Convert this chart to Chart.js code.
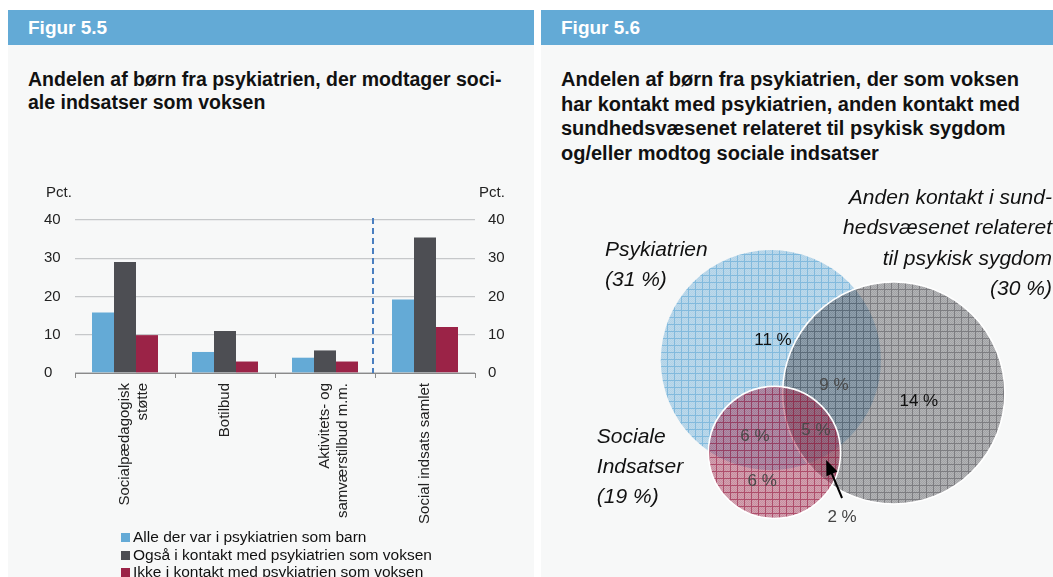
<!DOCTYPE html>
<html>
<head>
<meta charset="utf-8">
<script src="https://cdn.jsdelivr.net/npm/chart.js@4.4.1/dist/chart.umd.min.js"></script>
<style>
  html, body {
    margin: 0;
    padding: 0;
    width: 1053px;
    height: 577px;
    overflow: hidden;
    background: #fff;
    font-family: "Liberation Sans", Arial, Helvetica, sans-serif;
  }
  .panel { position: absolute; top: 10px; height: 600px; background: #f7f8f8; }
  #panel-a { left: 8px; width: 526px; }
  #panel-b { left: 541px; width: 530px; }
  .head {
    height: 35px;
    line-height: 35px;
    padding-left: 20px;
    background: #63aad6;
    color: #fff;
    font-weight: bold;
    font-size: 19px;
  }
  .title { position: absolute; left: 20px; font-weight: bold; color: #111; }
  #panel-a .title { top: 58px; line-height: 23px; font-size: 19.5px; }
  #panel-b .title { top: 57px; line-height: 24.7px; font-size: 20px; }
  canvas { position: absolute; }
  #bar-chart { left: 8px; top: 170px; }
  #venn-chart { left: 541px; top: 170px; }
  #legend { position: absolute; left: 121px; top: 528px; font-size: 15.5px; color: #111; }
  #legend div { height: 17.5px; line-height: 17.5px; white-space: nowrap; }
  #legend span { display: inline-block; width: 9px; height: 9px; margin-right: 3px; vertical-align: 0px; }
</style>
</head>
<body>
  <div class="panel" id="panel-a">
    <div class="head">Figur 5.5</div>
    <div class="title">Andelen af børn fra psykiatrien, der modtager soci-<br>ale indsatser som voksen</div>
  </div>
  <div class="panel" id="panel-b">
    <div class="head">Figur 5.6</div>
    <div class="title">Andelen af børn fra psykiatrien, der som voksen<br>har kontakt med psykiatrien, anden kontakt med<br>sundhedsvæsenet relateret til psykisk sygdom<br>og/eller modtog sociale indsatser</div>
  </div>
  <canvas id="bar-chart" width="526" height="407"></canvas>
  <canvas id="venn-chart" width="512" height="410"></canvas>
  <div id="legend"></div>

<script>
// Figur 5.5 data
const categories = [
  ['Socialpædagogisk', 'støtte'],
  'Botilbud',
  ['Aktivitets- og', 'samværstilbud m.m.'],
  'Social indsats samlet'
];
const seriesNames = [
  'Alle der var i psykiatrien som barn',
  'Også i kontakt med psykiatrien som voksen',
  'Ikke i kontakt med psykiatrien som voksen'
];
const allAsChild = [15.8, 5.5, 4.0, 19.2];
const alsoAsAdult = [29.0, 11.0, 5.9, 35.4];
const notAsAdult = [9.9, 3.0, 3.0, 12.0];
const yTicks = [0, 10, 20, 30, 40];
const seriesColors = ['#64aad6', '#4d4e53', '#9b2347'];

// Figur 5.6 data
const setNameLines = [
  ['Psykiatrien'],
  ['Anden kontakt i sund-', 'hedsvæsenet relateret', 'til psykisk sygdom'],
  ['Sociale', 'Indsatser']
];
const setTotals = [31, 30, 19];
const regionValues = [11, 9, 14, 6, 5, 6, 2];

// circle layout (chart units)
const circleX = [44.9, 68.9, 45.6];
const circleY = [37.1, 43.5, 55.1];
const circleR = [21.5, 21.7, 12.9];
const circleRgb = [[100, 170, 214], [77, 78, 83], [155, 35, 71]];
const regionPos = [[45.3, 33.2], [57.2, 42.0], [73.8, 45.1], [41.8, 51.9], [53.7, 50.7], [43.2, 60.7], [58.8, 67.7]];
const regionColors = ['#111', '#4a4a4a', '#111', '#4a4a4a', '#4a4a4a', '#4a4a4a', '#444'];
const setLabelPos = [[12.5, 15.6, 'left'], [99.8, 5.5, 'right'], [10.9, 52.1, 'left']];
const arrowFrom = [58.8, 64.0];
const arrowTo = [55.7, 56.6];

const FONT = '"Liberation Sans", Arial, Helvetica, sans-serif';
Chart.defaults.font.family = FONT;
Chart.defaults.color = '#222';

const barExtras = {
  id: 'barExtras',
  beforeDatasetsDraw(chart) {
    const { ctx, chartArea, scales } = chart;
    const x = scales.x.getPixelForValue(2.5) - 2;
    ctx.save();
    ctx.strokeStyle = '#4a7fc1';
    ctx.lineWidth = 2;
    ctx.setLineDash([6, 4]);
    ctx.beginPath();
    ctx.moveTo(x, scales.y.getPixelForValue(40) - 2);
    ctx.lineTo(x, chartArea.bottom);
    ctx.stroke();
    ctx.restore();
  },
  afterDraw(chart) {
    const { ctx, chartArea, scales } = chart;
    ctx.save();
    ctx.font = '15px ' + FONT;
    ctx.fillStyle = '#222';
    ctx.textBaseline = 'middle';
    ctx.fillText('Pct.', scales.y.left + 2, chartArea.top - 27);
    ctx.fillText('Pct.', scales.y2.left + 4, chartArea.top - 27);
    ctx.restore();
  }
};

const barChart = new Chart(document.getElementById('bar-chart'), {
  type: 'bar',
  data: {
    labels: categories,
    datasets: [allAsChild, alsoAsAdult, notAsAdult].map((values, i) => ({
      label: seriesNames[i],
      data: values,
      backgroundColor: seriesColors[i],
      borderWidth: 0,
      barPercentage: 1,
      categoryPercentage: 0.66
    }))
  },
  options: {
    responsive: false,
    animation: false,
    events: [],
    layout: { padding: { left: 36, top: 50, right: 0, bottom: 0 } },
    plugins: { legend: { display: false }, tooltip: { enabled: false } },
    scales: {
      x: {
        grid: { offset: true, drawOnChartArea: false, drawTicks: true, tickLength: 5, color: '#8a8a8a' },
        border: { display: true, color: '#8a8a8a', width: 1 },
        ticks: { maxRotation: 90, minRotation: 90, autoSkip: false, padding: 5, color: '#222', font: { size: 15 } },
        afterFit(s) { s.height = 204; }
      },
      y: {
        position: 'left',
        min: 0,
        max: 40,
        afterBuildTicks(s) { s.ticks = yTicks.map(v => ({ value: v })); },
        ticks: { crossAlign: 'far', padding: 0, color: '#222', font: { size: 15 } },
        grid: { color: '#c6c8ca', lineWidth: 1.3, drawTicks: false },
        border: { display: false },
        afterFit(s) { s.width = 31; }
      },
      y2: {
        position: 'right',
        min: 0,
        max: 40,
        afterBuildTicks(s) { s.ticks = yTicks.map(v => ({ value: v })); },
        ticks: { padding: 13, color: '#222', font: { size: 15 } },
        grid: { drawOnChartArea: false, drawTicks: false },
        border: { display: false },
        afterFit(s) { s.width = 59; }
      }
    }
  },
  plugins: [barExtras]
});

const legendEl = document.getElementById('legend');
barChart.data.datasets.forEach(ds => {
  const row = document.createElement('div');
  const box = document.createElement('span');
  box.style.background = ds.backgroundColor;
  row.appendChild(box);
  row.appendChild(document.createTextNode(ds.label));
  legendEl.appendChild(row);
});

// see-through hatched fill: base tint, fine checker, grid lines every 7px
function makePattern([r, g, b], baseA, dotA, lineA) {
  const size = 7;
  const c = document.createElement('canvas');
  c.width = size;
  c.height = size;
  const p = c.getContext('2d');
  for (let y = 0; y < size; y++) {
    for (let x = 0; x < size; x++) {
      let a = (x + y) % 2 === 0 ? dotA : baseA;
      if (x === 0 || y === 0) a = lineA;
      p.fillStyle = `rgba(${r},${g},${b},${a})`;
      p.fillRect(x, y, 1, 1);
    }
  }
  return p.createPattern(c, 'repeat');
}

const vctx = document.getElementById('venn-chart').getContext('2d');
const circleFills = [
  makePattern(circleRgb[0], 0.4, 0.48, 0.8),
  makePattern(circleRgb[1], 0.4, 0.5, 0.72),
  makePattern(circleRgb[2], 0.4, 0.5, 0.8)
];
const circleBorders = [0, 1.6, 1.6];

function radiusPx(ctx, r) {
  const s = ctx.chart.scales.x;
  return Math.abs(s.getPixelForValue(r) - s.getPixelForValue(0));
}

const vennDatasets = circleX.map((cx, i) => ({
  data: [{ x: cx, y: circleY[i] }],
  order: 3 - i,
  clip: false,
  pointRadius: ctx => radiusPx(ctx, circleR[i]),
  pointBackgroundColor: circleFills[i],
  pointBorderColor: '#ffffff',
  pointBorderWidth: circleBorders[i]
}));

const vennText = {
  id: 'vennText',
  afterDatasetsDraw(chart) {
    const { ctx, scales: { x, y } } = chart;
    ctx.save();
    ctx.textBaseline = 'middle';
    ctx.textAlign = 'center';
    ctx.font = '17px ' + FONT;
    regionValues.forEach((v, i) => {
      ctx.fillStyle = regionColors[i];
      ctx.fillText(v + ' %', x.getPixelForValue(regionPos[i][0]), y.getPixelForValue(regionPos[i][1]));
    });

    ctx.font = 'italic 21px ' + FONT;
    ctx.fillStyle = '#111';
    setNameLines.forEach((lines, i) => {
      const all = lines.concat('(' + setTotals[i] + ' %)');
      const [lx, ly, align] = setLabelPos[i];
      ctx.textAlign = align;
      all.forEach((t, j) => {
        ctx.fillText(t, x.getPixelForValue(lx), y.getPixelForValue(ly + j * 5.9));
      });
    });

    // arrow to the 2 % region
    const x0 = x.getPixelForValue(arrowFrom[0]);
    const y0 = y.getPixelForValue(arrowFrom[1]);
    const x1 = x.getPixelForValue(arrowTo[0]);
    const y1 = y.getPixelForValue(arrowTo[1]);
    const a = Math.atan2(y1 - y0, x1 - x0);
    ctx.strokeStyle = '#000';
    ctx.fillStyle = '#000';
    ctx.lineWidth = 2;
    ctx.beginPath();
    ctx.moveTo(x0, y0);
    ctx.lineTo(x1 - 10 * Math.cos(a), y1 - 10 * Math.sin(a));
    ctx.stroke();
    ctx.beginPath();
    ctx.moveTo(x1, y1);
    ctx.lineTo(x1 - 15 * Math.cos(a) + 6 * Math.sin(a), y1 - 15 * Math.sin(a) - 6 * Math.cos(a));
    ctx.lineTo(x1 - 15 * Math.cos(a) - 6 * Math.sin(a), y1 - 15 * Math.sin(a) + 6 * Math.cos(a));
    ctx.closePath();
    ctx.fill();
    ctx.restore();
  }
};

new Chart(vctx, {
  type: 'scatter',
  data: { datasets: vennDatasets },
  options: {
    responsive: false,
    animation: false,
    events: [],
    layout: { padding: 0 },
    plugins: { legend: { display: false }, tooltip: { enabled: false } },
    scales: {
      x: { type: 'linear', min: 0, max: 100, display: false },
      y: { type: 'linear', min: 0, max: 80, reverse: true, display: false }
    }
  },
  plugins: [vennText]
});
</script>
</body>
</html>
